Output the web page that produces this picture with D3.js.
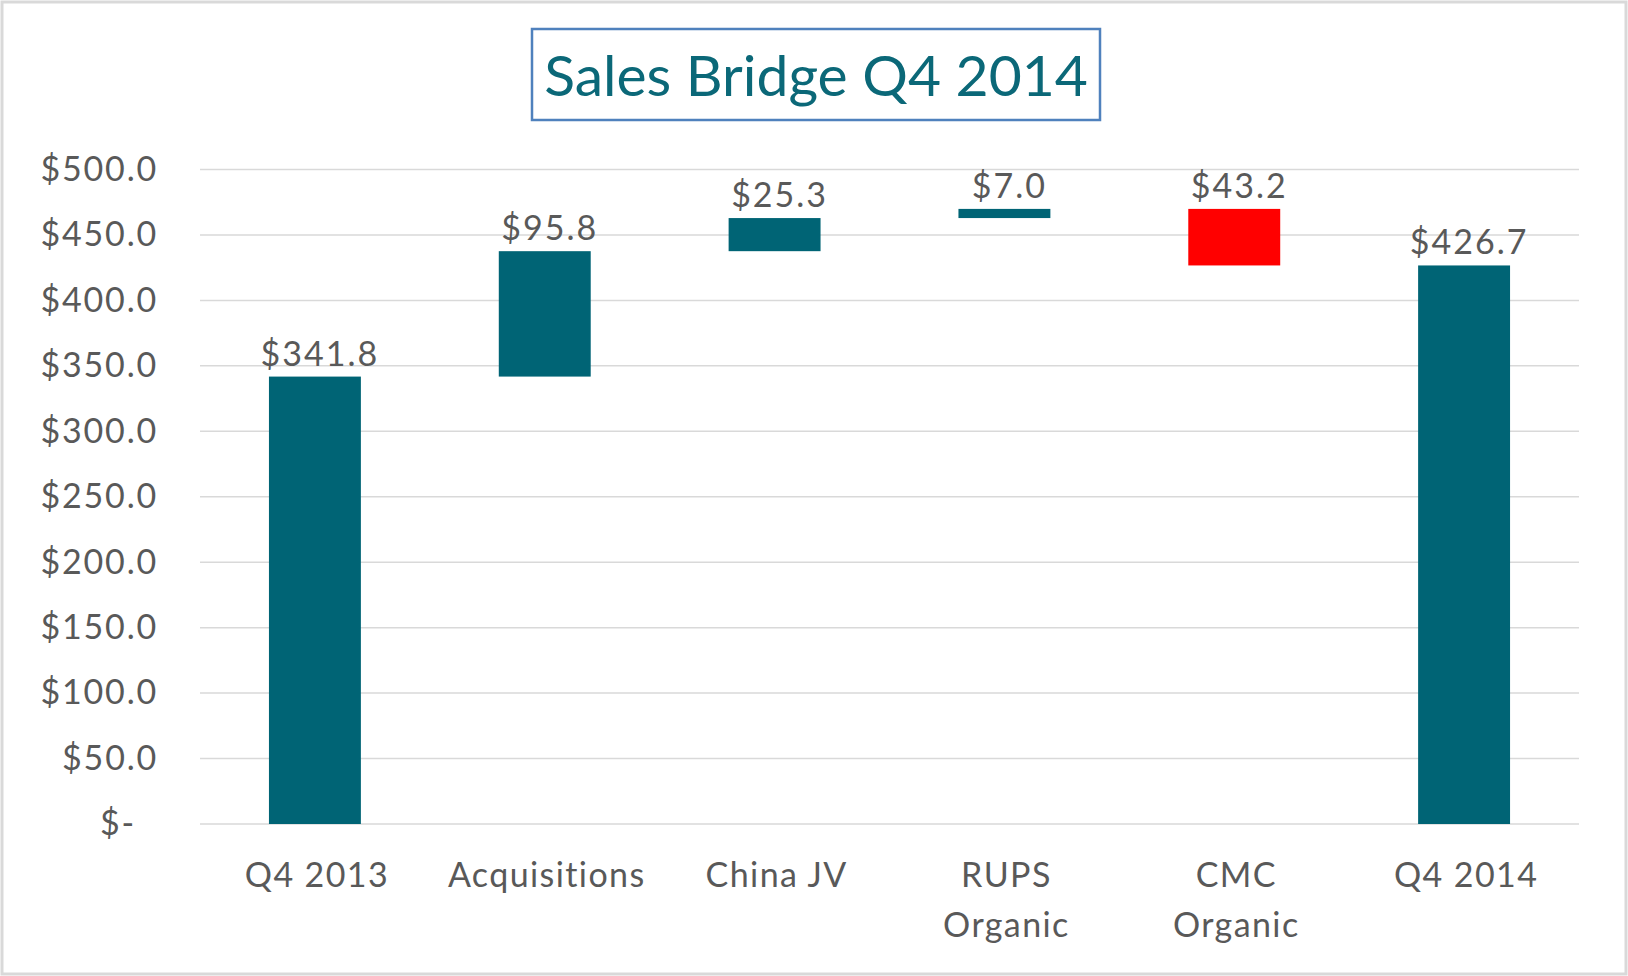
<!DOCTYPE html>
<html>
<head>
<meta charset="utf-8">
<script src="https://cdn.jsdelivr.net/npm/d3@7"></script>
<style>
  body { margin: 0; background: #fff; }
  svg text { font-family: Lato, "Open Sans", sans-serif; }
</style>
</head>
<body>
<script>
// categories and waterfall steps
var categories = ["Q4 2013", "Acquisitions", "China JV", "RUPS Organic", "CMC Organic", "Q4 2014"];
var amounts = [341.8, 95.8, 25.3, 7.0, -43.2, 426.7];
var kinds = ["total", "step", "step", "step", "step", "total"];
var yTicks = [0, 50, 100, 150, 200, 250, 300, 350, 400, 450, 500];

var W = 1628, H = 976;
var margin = {top: 169.5, right: 49, bottom: 152, left: 200};
var width = W - margin.left - margin.right,
    height = H - margin.top - margin.bottom;

var svg = d3.select("body").append("svg")
    .attr("width", W)
    .attr("height", H);

// outer chart border
svg.append("rect")
    .attr("x", 2).attr("y", 2)
    .attr("width", W - 4).attr("height", H - 4)
    .attr("fill", "#fff")
    .attr("stroke", "#d9d9d9")
    .attr("stroke-width", 3);

// build bar ranges from the running total
var running = 0;
var bars = categories.map(function(c, i) {
  var start, end;
  if (kinds[i] == "total") { start = 0; end = amounts[i]; running = amounts[i]; }
  else { start = running; end = running + amounts[i]; running = end; }
  return {cat: c, value: amounts[i], start: start, end: end, kind: kinds[i]};
});

var x = d3.scaleBand().domain(categories).range([0, width])
    .paddingInner(0.6).paddingOuter(0.3);
var y = d3.scaleLinear().domain([0, 500]).range([height, 0]);

var chart = svg.append("g")
    .attr("transform", "translate(" + margin.left + "," + margin.top + ")");

// gridlines
chart.selectAll(".grid").data(yTicks).enter().append("line")
    .attr("class", "grid")
    .attr("x1", 0).attr("x2", width)
    .attr("y1", function(d) { return y(d); })
    .attr("y2", function(d) { return y(d); })
    .attr("stroke", "#d9d9d9")
    .attr("stroke-width", 1.5);

// y axis labels
var yAxis = d3.axisLeft(y).tickValues(yTicks).tickSize(0).tickPadding(45)
    .tickFormat(function(d) { return d == 0 ? "$-" : "$" + d3.format(".1f")(d); });
chart.append("g").call(yAxis)
  .call(function(g) { g.select(".domain").remove(); })
  .selectAll("text")
    .attr("fill", "#595959")
    .style("font-size", "34px")
    .style("letter-spacing", "1.8px")
    .attr("dx", function(d) { return d == 0 ? -19 : 3; });

// bars
chart.selectAll(".bar").data(bars).enter().append("rect")
    .attr("class", "bar")
    .attr("x", function(d) { return x(d.cat); })
    .attr("width", x.bandwidth())
    .attr("y", function(d) { return y(Math.max(d.start, d.end)); })
    .attr("height", function(d) { return Math.abs(y(d.start) - y(d.end)); })
    .attr("fill", function(d) { return d.value < 0 ? "#ff0000" : "#006475"; });

// value labels
chart.selectAll(".val").data(bars).enter().append("text")
    .attr("class", "val")
    .attr("x", function(d) { return x(d.cat) + x.bandwidth() / 2 + 5; })
    .attr("y", function(d) { return y(Math.max(d.start, d.end)) - 11; })
    .attr("text-anchor", "middle")
    .attr("fill", "#595959")
    .style("font-size", "34px")
    .style("letter-spacing", "2px")
    .text(function(d) { return "$" + d3.format(".1f")(Math.abs(d.value)); });

// category labels, wrapped on two words for the organic ones
var xl = chart.selectAll(".cat").data(categories).enter().append("text")
    .attr("class", "cat")
    .attr("text-anchor", "middle")
    .attr("fill", "#595959")
    .style("font-size", "34px")
    .style("letter-spacing", "1.4px")
    .attr("transform", function(d) { return "translate(" + (x(d) + x.bandwidth() / 2 + 2) + "," + (height + 63) + ")"; });
xl.each(function(d) {
  var lines = d.indexOf("Organic") > -1 ? d.split(" ") : [d];
  var t = d3.select(this);
  lines.forEach(function(l, i) {
    t.append("tspan").attr("x", 0).attr("dy", i == 0 ? 0 : 50).text(l);
  });
});

// title box
svg.append("rect")
    .attr("x", 532).attr("y", 29)
    .attr("width", 568).attr("height", 91)
    .attr("fill", "#fff")
    .attr("stroke", "#4f81bd")
    .attr("stroke-width", 2.5);

svg.append("text")
    .attr("x", 816).attr("y", 96)
    .attr("text-anchor", "middle")
    .attr("fill", "#0b6878")
    .style("font-size", "57px")
    .text("Sales Bridge Q4 2014");
</script>
</body>
</html>
